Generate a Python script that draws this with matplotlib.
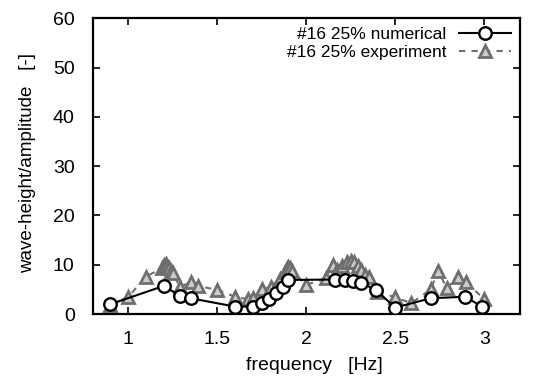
import matplotlib
matplotlib.use("Agg")
import matplotlib.pyplot as plt

plt.rcParams['font.family'] = ['Liberation Sans', 'DejaVu Sans']

num_f = [0.90, 1.20, 1.29, 1.35, 1.60, 1.70, 1.75, 1.79, 1.83, 1.87, 1.90,
         2.16, 2.22, 2.26, 2.31, 2.39, 2.50, 2.70, 2.89, 2.99]
num_y = [2.0, 5.7, 3.7, 3.2, 1.5, 1.5, 2.2, 3.0, 4.2, 5.5, 6.9,
         7.0, 6.8, 6.6, 6.3, 4.9, 1.3, 3.2, 3.5, 1.5]

exp_f = [0.90, 1.00, 1.10, 1.19, 1.20, 1.21, 1.22, 1.23, 1.24, 1.25,
         1.29, 1.35, 1.39, 1.50, 1.60, 1.67, 1.70, 1.75, 1.80, 1.85,
         1.88, 1.89, 1.90, 1.91, 1.92, 2.00, 2.11, 2.15, 2.17, 2.20,
         2.23, 2.25, 2.27, 2.29, 2.31, 2.33, 2.35, 2.40, 2.50, 2.59,
         2.70, 2.74, 2.79, 2.85, 2.90, 3.00]
exp_y = [1.8, 3.5, 7.6, 9.3, 10.0, 10.2, 9.8, 9.3, 8.8, 8.3,
         5.5, 6.4, 5.7, 4.9, 3.5, 3.0, 3.2, 5.0, 5.5, 7.2,
         8.5, 9.3, 9.6, 9.3, 8.7, 5.9, 7.3, 10.0, 9.0, 9.8,
         10.5, 10.8, 10.5, 9.8, 9.0, 8.0, 7.5, 4.5, 3.4, 2.2,
         5.0, 8.8, 5.2, 7.5, 6.4, 3.0]

x_ticks = [1, 1.5, 2, 2.5, 3]
x_labels = ['1', '1.5', '2', '2.5', '3']
y_ticks = [0, 10, 20, 30, 40, 50, 60]

fig = plt.figure(figsize=(5.37, 3.78), dpi=100)
ax = fig.add_axes([0.1726, 0.1693, 0.7954, 0.7823])

gray = '#6e6e6e'
ax.plot(num_f, num_y, color='black', lw=1.5, marker='o', markersize=9,
        markerfacecolor='white', markeredgecolor='black', markeredgewidth=1.7,
        label='#16 25% numerical', zorder=3)
ax.plot(exp_f, exp_y, color=gray, lw=1.5, ls=(0, (3, 3)), marker='^',
        markersize=8.5, markerfacecolor='#cccccc', markeredgecolor=gray,
        markeredgewidth=2.0, label='#16 25% experiment', zorder=2)

ax.set_xlim(0.8, 3.2)
ax.set_ylim(0, 60)
ax.set_xticks(x_ticks)
ax.set_xticklabels(x_labels)
ax.set_yticks(y_ticks)
ax.tick_params(direction='in', length=5, width=1.2, top=True, right=True,
               labelsize=14)
ax.tick_params(axis='x', pad=12)
ax.tick_params(axis='y', pad=13)
for s in ax.spines.values():
    s.set_linewidth(1.6)

ax.set_xlabel('frequency   [Hz]', fontsize=14)
ax.set_ylabel('wave-height/amplitude   [-]', fontsize=13.5)
ax.xaxis.set_label_coords(0.52, -0.145)
ax.yaxis.set_label_coords(-0.133, 0.51)

leg = ax.legend(loc='upper right', markerfirst=False, frameon=False,
                fontsize=12.5, handlelength=3.0, handletextpad=0.75,
                labelspacing=0.15, borderaxespad=0.3, borderpad=0.2)

fig.savefig('out.png', dpi=100)
